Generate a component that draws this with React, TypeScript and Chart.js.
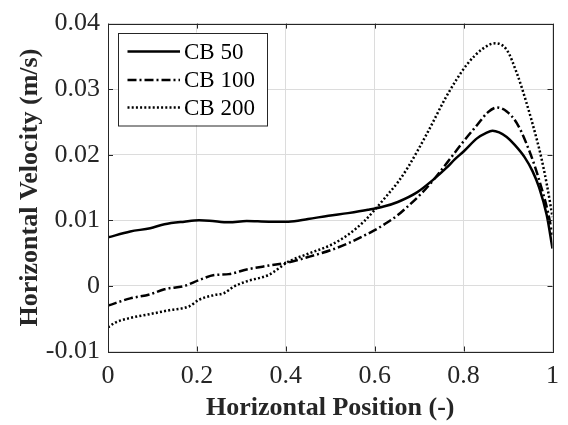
import React, { useEffect, useRef } from "react";
import { Chart, registerables } from "chart.js";

Chart.register(...registerables);

const seriesLabels = ["CB 50", "CB 100", "CB 200"];

const xCB50 = [0, 0.05, 0.095, 0.127, 0.172, 0.205, 0.228, 0.272, 0.312, 0.362, 0.406, 0.45, 0.496, 0.54, 0.585, 0.62, 0.652, 0.696, 0.73, 0.763, 0.78, 0.8, 0.83, 0.85, 0.865, 0.88, 0.897, 0.915, 0.9375, 0.955, 0.97, 0.987, 1];
const yCB50 = [0.0074, 0.0083, 0.0088, 0.0094, 0.0098, 0.01, 0.00995, 0.0097, 0.0099, 0.0098, 0.0098, 0.0102, 0.0107, 0.0111, 0.0116, 0.0121, 0.0128, 0.0143, 0.0161, 0.0181, 0.0193, 0.0205, 0.0225, 0.0233, 0.02365, 0.0234, 0.0227, 0.0215, 0.0196, 0.0175, 0.015, 0.0108, 0.0057];

const xCB100 = [0, 0.05, 0.094, 0.127, 0.172, 0.205, 0.239, 0.272, 0.312, 0.362, 0.406, 0.45, 0.503, 0.54, 0.577, 0.6, 0.629, 0.652, 0.674, 0.708, 0.734, 0.763, 0.797, 0.83, 0.855, 0.875, 0.897, 0.92, 0.942, 0.96, 0.975, 0.99, 1];
const yCB100 = [-0.003, -0.0019, -0.0013, -0.0005, 0.0, 0.0009, 0.00165, 0.0018, 0.0025, 0.0031, 0.0036, 0.0044, 0.0055, 0.0065, 0.0077, 0.0085, 0.0097, 0.0108, 0.0121, 0.0143, 0.0163, 0.0188, 0.0218, 0.0245, 0.0265, 0.0272, 0.0266, 0.0248, 0.0216, 0.0183, 0.015, 0.0112, 0.0078];

const xCB200 = [0, 0.016, 0.049, 0.094, 0.138, 0.183, 0.205, 0.239, 0.261, 0.283, 0.312, 0.362, 0.406, 0.45, 0.503, 0.54, 0.577, 0.6, 0.629, 0.652, 0.674, 0.719, 0.763, 0.808, 0.842, 0.871, 0.897, 0.92, 0.942, 0.964, 0.975, 0.988, 1];
const yCB200 = [-0.0063, -0.0056, -0.0049, -0.0043, -0.0037, -0.0031, -0.0021, -0.0014, -0.0011, -0.0001, 0.0007, 0.0017, 0.0037, 0.0049, 0.0063, 0.0078, 0.0099, 0.0116, 0.0139, 0.0158, 0.018, 0.0234, 0.0291, 0.0338, 0.0361, 0.037, 0.036, 0.0324, 0.0278, 0.0225, 0.0195, 0.0152, 0.0105];

const xTicks = [0, 0.2, 0.4, 0.6, 0.8, 1];
const yTicks = [-0.01, 0, 0.01, 0.02, 0.03, 0.04];

const dashes = [[], [9, 3, 2, 3], [2, 2.2]];

const FONT = "'Liberation Serif', 'Times New Roman', serif";
const TEXT = "#262626";

const fmt = (v: number) => {
  const r = Math.round(v * 100) / 100;
  return r === 0 ? "0" : String(r);
};

const boxPlugin = {
  id: "boxPlugin",
  afterDraw(chart: any) {
    const { ctx, chartArea } = chart;
    const { left, right, top, bottom } = chartArea;
    ctx.save();
    ctx.strokeStyle = "#262626";
    ctx.lineWidth = 1;
    ctx.setLineDash([]);
    ctx.strokeRect(Math.round(left) + 0.5, Math.round(top) + 0.5, Math.round(right - left), Math.round(bottom - top));
    const xs = chart.scales.x;
    const ys = chart.scales.y;
    const tl = 5;
    ctx.beginPath();
    xTicks.forEach((t) => {
      const px = Math.round(xs.getPixelForValue(t)) + 0.5;
      ctx.moveTo(px, bottom);
      ctx.lineTo(px, bottom - tl);
      ctx.moveTo(px, top);
      ctx.lineTo(px, top + tl);
    });
    yTicks.forEach((t) => {
      const py = Math.round(ys.getPixelForValue(t)) + 0.5;
      ctx.moveTo(left, py);
      ctx.lineTo(left + tl, py);
      ctx.moveTo(right, py);
      ctx.lineTo(right - tl, py);
    });
    ctx.stroke();

    // legend
    const lx = left + 10;
    const ly = top + 9;
    const lw = 149;
    const lh = 92.5;
    ctx.fillStyle = "#ffffff";
    ctx.fillRect(lx, ly, lw, lh);
    ctx.strokeStyle = "#262626";
    ctx.lineWidth = 1;
    ctx.strokeRect(Math.round(lx) + 0.5, Math.round(ly) + 0.5, lw, lh);
    const rows = [19, 47.5, 75];
    ctx.font = `23px ${FONT}`;
    ctx.textBaseline = "middle";
    ctx.textAlign = "left";
    chart.data.datasets.forEach((ds: any, i: number) => {
      const yy = ly + rows[i];
      ctx.beginPath();
      ctx.strokeStyle = "#000000";
      ctx.lineWidth = 2.5;
      ctx.setLineDash(ds.borderDash || []);
      ctx.moveTo(lx + 9.5, yy);
      ctx.lineTo(lx + 62, yy);
      ctx.stroke();
      ctx.setLineDash([]);
      ctx.fillStyle = "#000000";
      ctx.fillText(ds.label, lx + 66, yy + 1);
    });
    ctx.restore();
  },
};

export default function App() {
  const ref = useRef<HTMLCanvasElement | null>(null);
  useEffect(() => {
    if (!ref.current) return;
    const mk = (xs: number[], ys: number[]) => xs.map((x, i) => ({ x, y: ys[i] }));
    const data = [mk(xCB50, yCB50), mk(xCB100, yCB100), mk(xCB200, yCB200)];
    const chart = new Chart(ref.current, {
      type: "line",
      data: {
        datasets: data.map((d, i) => ({
          label: seriesLabels[i],
          data: d,
          borderColor: "#000000",
          borderWidth: 2.5,
          borderDash: dashes[i],
          pointRadius: 0,
          fill: false,
          cubicInterpolationMode: "monotone" as const,
        })),
      },
      options: {
        animation: false,
        responsive: false,
        layout: { padding: { top: 20, right: 12, left: 0, bottom: 0 } },
        plugins: { legend: { display: false }, tooltip: { enabled: false } },
        scales: {
          x: {
            type: "linear",
            min: 0,
            max: 1,
            afterBuildTicks: (s: any) => {
              s.ticks = xTicks.map((v) => ({ value: v }));
            },
            afterFit: (s: any) => {
              s.height = 73.5;
            },
            ticks: {
              callback: (v: any) => fmt(Number(v)),
              font: { family: FONT, size: 26 },
              color: TEXT,
              padding: 9,
              maxRotation: 0,
            },
            grid: { color: "#dcdcdc", drawTicks: false },
            border: { display: false },
            title: {
              display: true,
              text: "Horizontal Position (-)",
              font: { family: FONT, size: 26, weight: "bold", lineHeight: 1 },
              color: TEXT,
              padding: { top: 0, bottom: 4 },
            },
          },
          y: {
            type: "linear",
            min: -0.01,
            max: 0.04,
            afterBuildTicks: (s: any) => {
              s.ticks = yTicks.map((v) => ({ value: v }));
            },
            afterFit: (s: any) => {
              s.width = 108;
            },
            ticks: {
              callback: (v: any) => fmt(Number(v)),
              font: { family: FONT, size: 26 },
              color: TEXT,
              padding: 8,
            },
            grid: { color: "#dcdcdc", drawTicks: false },
            border: { display: false },
            title: {
              display: true,
              text: "Horizontal Velocity (m/s)",
              font: { family: FONT, size: 26, weight: "bold", lineHeight: 1 },
              color: TEXT,
              padding: { top: 17, bottom: 0 },
            },
          },
        },
      },
      plugins: [boxPlugin],
    });
    return () => chart.destroy();
  }, []);
  return (
    <div style={{ position: "absolute", left: 0, top: 0, width: 568, height: 425, background: "#fff" }}>
      <canvas ref={ref} width={568} height={425} style={{ display: "block" }} />
    </div>
  );
}
